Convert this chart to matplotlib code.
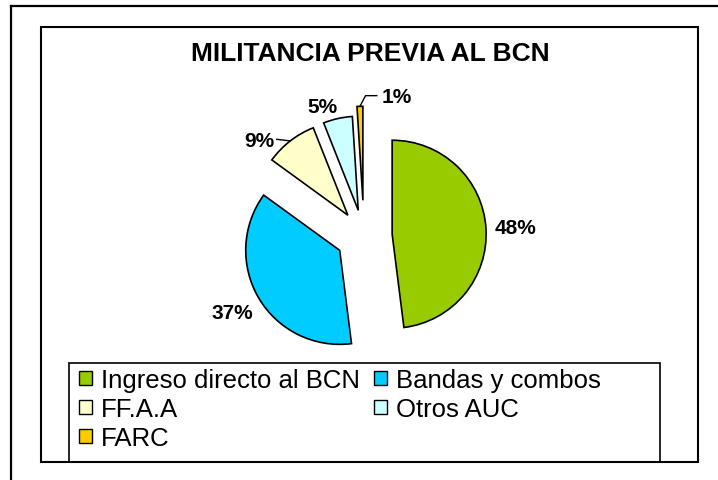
import matplotlib
matplotlib.use('Agg')
import matplotlib.pyplot as plt
from matplotlib.patches import Patch, Rectangle
from matplotlib.lines import Line2D
import numpy as np

plt.rcParams['font.family'] = ['Liberation Sans', 'DejaVu Sans']

title = "MILITANCIA PREVIA AL BCN"
categories = ["Ingreso directo al BCN", "Bandas y combos", "FF.A.A", "Otros AUC", "FARC"]
values = [48, 37, 9, 5, 1]
colors = ["#99CC00", "#00CCFF", "#FFFFCC", "#CCFFFF", "#FFCC00"]

W, H = 718, 481
DPI = 100
fig = plt.figure(figsize=(W / DPI, H / DPI), dpi=DPI)
fig.patch.set_facecolor('white')


def fx(px):
    return px / W


def fy(py):
    return 1 - py / H


# outer (partial) frame
fig.add_artist(Line2D([fx(11), fx(11)], [fy(7), 0], color='black', lw=1.6))
fig.add_artist(Line2D([fx(11), 1], [fy(7), fy(7)], color='black', lw=1.6))
# chart area frame
fig.add_artist(Rectangle((fx(41), fy(463)), fx(698) - fx(41), fy(28) - fy(463),
                         fill=False, ec='black', lw=1.5))

# pie axes: 1 data unit = R px, pie centre at (CX, CY) px
R = 94.0
CX, CY = 364, 237
ax = fig.add_axes([0, 0, 1, 1])
explode = [0.30, 0.30, 0.28, 0.28, 0.38]
wedges, _ = ax.pie(values, explode=explode, colors=colors, startangle=90,
                   counterclock=False, radius=1,
                   wedgeprops=dict(edgecolor='black', linewidth=1.2))
ax.set_xlim(-CX / R, (W - CX) / R)
ax.set_ylim((CY - H) / R, CY / R)
ax.set_aspect('auto')
ax.axis('off')

# label placement (angle in degrees, distance in radii) relative to each wedge centre
label_pos = [(3.2, 1.31), (210.1, 1.316), (139.9, 1.238), (109.1, 1.17), (72.0, 1.16)]
label_xy = []
for w, v, (ang, dist) in zip(wedges, values, label_pos):
    cx, cy = w.center
    lx = cx + dist * np.cos(np.radians(ang))
    ly = cy + dist * np.sin(np.radians(ang))
    label_xy.append((lx, ly))
    ax.text(lx, ly, f"{v}%", fontsize=15, fontweight='bold', ha='center', va='center')


def arc_mid(w):
    tm = np.radians((w.theta1 + w.theta2) / 2)
    cx, cy = w.center
    return cx + w.r * np.cos(tm), cy + w.r * np.sin(tm)


# leader for 9%
mx, my = arc_mid(wedges[2])
lx, ly = label_xy[2]
ax.plot([mx, lx + 0.19], [my, ly + 0.01], color='black', lw=1.0)
# leader for 1%
mx, my = arc_mid(wedges[4])
lx, ly = label_xy[4]
ax.plot([mx, lx - 0.33, lx - 0.21], [my, ly + 0.01, ly + 0.01], color='black', lw=1.0)

# title
fig.text(fx(370), fy(61), title, fontsize=19, fontweight='bold', ha='center', va='baseline')

# legend
order = [0, 2, 4, 1, 3]
handles = [Patch(facecolor=colors[i], edgecolor='black', linewidth=1.0) for i in order]
labels = [categories[i] for i in order]
fig.add_artist(Rectangle((fx(69), fy(463)), fx(660) - fx(69), fy(364) - fy(463),
                         fill=False, ec='black', lw=1.2))
fig.legend(handles, labels, ncol=2, loc='upper left', bbox_to_anchor=(fx(79), fy(369)),
           frameon=False, fontsize=18.5, handlelength=0.5, handleheight=0.5,
           handletextpad=0.35, columnspacing=0.55, labelspacing=0.2,
           borderpad=0, borderaxespad=0)

fig.savefig('out.png', dpi=DPI, facecolor='white')
